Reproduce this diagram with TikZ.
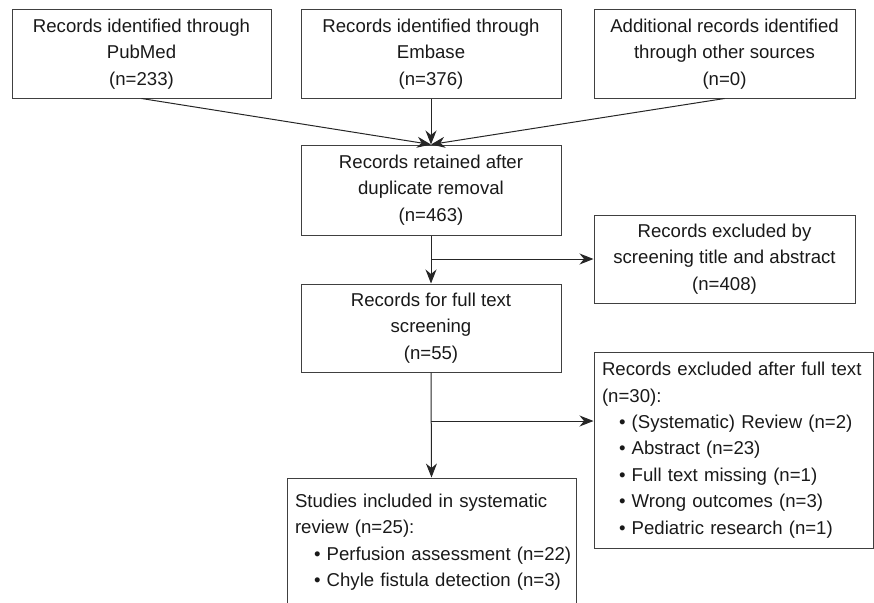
\documentclass[tikz,border=0pt]{standalone}
\usepackage{fontspec}
\setmainfont{Liberation Sans}
\usetikzlibrary{arrows.meta}

\begin{document}
\begin{tikzpicture}[x=1pt,y=-1pt,line join=miter,
  box/.style={draw=black!75,line width=1pt,inner sep=0pt,align=center,
    text=black!90,font=\fontsize{18.6pt}{26.4pt}\selectfont},
  listbox/.style={box,align=left,inner xsep=8pt},
  flow/.style={draw=black!85,line width=1pt,
    -{Stealth[length=14pt,width=11pt,inset=4.5pt]}}]
  \useasboundingbox (0,0) rectangle (874,602);
  \clip (0,0) rectangle (874,602);

  % sources
  \node[box,minimum width=259pt,minimum height=88pt] (pubmed) at (141.5,54)
    {Records identified through\\PubMed\\(n=233)};
  \node[box,minimum width=260pt,minimum height=88pt] (embase) at (431,54)
    {Records identified through\\Embase\\(n=376)};
  \node[box,minimum width=261pt,minimum height=88pt] (other) at (724.5,54)
    {Additional records identified\\through other sources\\(n=0)};

  % main column
  \node[box,minimum width=260pt,minimum height=90pt] (dedup) at (431,190)
    {Records retained after\\duplicate removal\\(n=463)};
  \node[box,minimum width=260pt,minimum height=88pt] (fulltext) at (431,328)
    {Records for full text\\screening\\(n=55)};
  \node[listbox,text width=273pt,minimum height=128pt] (included) at (431.5,542)
    {Studies included in systematic\\review (n=25):\\
     \hspace*{19pt}\mbox{\textbullet\ Perfusion assessment (n=22)}\\
     \hspace*{19pt}\mbox{\textbullet\ Chyle fistula detection (n=3)}};

  % exclusions
  \node[box,minimum width=261pt,minimum height=88pt] (screenout) at (724.5,259)
    {Records excluded by\\screening title and abstract\\(n=408)};
  \node[listbox,text width=263pt,minimum height=196pt] (fullout) at (733.5,450)
    {\mbox{Records excluded after full text}\\(n=30):\\
     \hspace*{17pt}\textbullet\ (Systematic) Review (n=2)\\
     \hspace*{17pt}\textbullet\ Abstract (n=23)\\
     \hspace*{17pt}\textbullet\ Full text missing (n=1)\\
     \hspace*{17pt}\textbullet\ Wrong outcomes (n=3)\\
     \hspace*{17pt}\textbullet\ Pediatric research (n=1)};

  \coordinate (split1) at (dedup.south |- screenout.west);
  \coordinate (split2) at (fulltext.south |- 0,421);

  \draw[flow] (pubmed.south) -- (dedup.north);
  \draw[flow] (embase.south) -- (dedup.north);
  \draw[flow] (other.south) -- (dedup.north);
  \draw[flow] (dedup.south) -- (fulltext.north);
  \draw[flow] (split1) -- (screenout.west);
  \draw[flow] (fulltext.south) -- (included.north);
  \draw[flow] (split2) -- (split2 -| fullout.west);
\end{tikzpicture}
\end{document}
